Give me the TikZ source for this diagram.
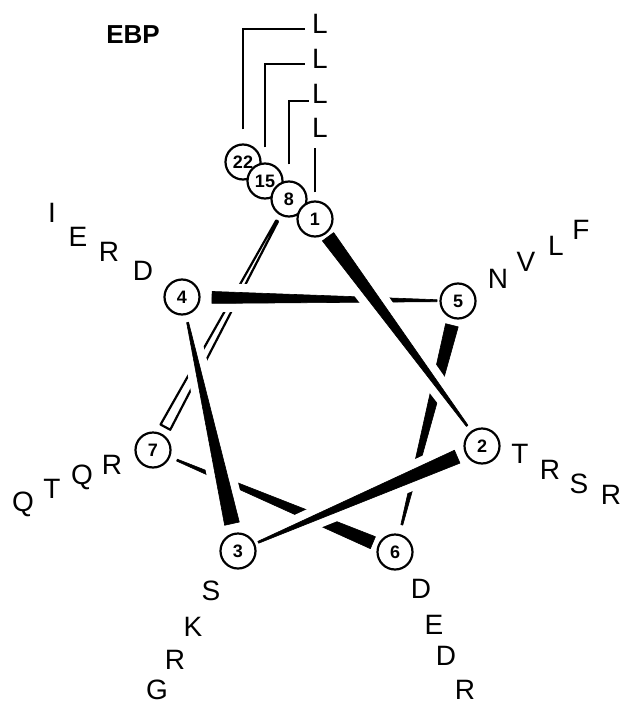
\documentclass[tikz,border=0pt]{standalone}
\usepackage{fontspec}
\setmainfont{Liberation Sans}
\usetikzlibrary{calc}
\pgfdeclarelayer{bg}
\pgfsetlayers{bg,main}

\newcommand{\helixbond}[7]{%
  \coordinate (hbA) at ($(#2)!#4!(#3)$);
  \coordinate (hbB) at ($(#3)!#5!(#2)$);
  \coordinate (hbP) at ($(hbA)!#6!90:(hbB)$);
  \coordinate (hbQ) at ($(hbB)!#7!-90:(hbA)$);
  \coordinate (hbR) at ($(hbB)!#7!90:(hbA)$);
  \coordinate (hbS) at ($(hbA)!#6!-90:(hbB)$);
  \path[halo] (hbP) -- (hbQ) -- (hbR) -- (hbS) -- cycle;
  \path[#1] (hbP) -- (hbQ) -- (hbR) -- (hbS) -- cycle;
}

\begin{document}
\begin{tikzpicture}[x=1pt,y=-1pt,
  res/.style={circle,draw,line width=2.2pt,fill=white,minimum size=35pt,inner sep=0pt,font=\fontsize{18}{18}\selectfont\bfseries},
  aa/.style={inner sep=0pt,font=\fontsize{28}{28}\selectfont},
  leader/.style={line width=2pt},
  halo/.style={draw=white,fill=white,line width=17pt,line join=round},
  solidbond/.style={fill=black,draw=black,line width=0.6pt,line join=round},
  openbond/.style={fill=white,draw=black,line width=2.2pt,line join=round}
]
\useasboundingbox (0,0) rectangle (622,706);

\node[res] (c22) at (243,162) {22};
\node[res] (c15) at (265,181) {15};
\node[res] (c8) at (289,199) {8};
\node[res] (c1) at (315,219) {1};
\node[res] (c4) at (182,297) {4};
\node[res] (c5) at (458,301) {5};
\node[res] (c2) at (482,446) {2};
\node[res] (c7) at (153,450) {7};
\node[res] (c3) at (238,551) {3};
\node[res] (c6) at (395,552) {6};

\node[aa,font=\fontsize{26}{26}\selectfont\bfseries] (title) at (133,35) {EBP};
\node[aa] (l1) at (320,24) {L};
\node[aa] (l2) at (320,59) {L};
\node[aa] (l3) at (320,94) {L};
\node[aa] (l4) at (320,128) {L};

\draw[leader] ($(c22.north)+(0,-14)$) |- ($(l1.west)+(-7,5)$);
\draw[leader] ($(c15.north)+(0,-15)$) |- ($(l2.west)+(-7,5)$);
\draw[leader] ($(c8.north)+(0,-16)$) |- ($(l3.west)+(-3,7)$);
\draw[leader] ($(c1.north)+(0,-8)$) -- ($(c1.north |- l4.south)+(0,10)$);

\foreach \t/\x/\y [count=\i] in {I/52/213,E/78/237,R/109/252,D/143/271}
  \node[aa] (r4-\i) at (\x,\y) {\t};
\foreach \t/\x/\y [count=\i] in {N/498/279,V/526/262,L/556/246,F/581/230}
  \node[aa] (r5-\i) at (\x,\y) {\t};
\foreach \t/\x/\y [count=\i] in {T/520/454,R/550/470,S/579/484,R/611/495}
  \node[aa] (r2-\i) at (\x,\y) {\t};
\foreach \t/\x/\y [count=\i] in {Q/23/504,T/52/489,Q/82/477,R/112/465}
  \node[aa] (r7-\i) at (\x,\y) {\t};
\foreach \t/\x/\y [count=\i] in {S/211/591,K/193/627,R/175/660,G/157/690}
  \node[aa] (r3-\i) at (\x,\y) {\t};
\foreach \t/\x/\y [count=\i] in {D/421/589,E/434/625,D/446/656,R/465/690}
  \node[aa] (r6-\i) at (\x,\y) {\t};

\begin{pgfonlayer}{bg}
\helixbond{openbond}{c7}{c8}{26pt}{25pt}{5.5pt}{1pt}
\helixbond{solidbond}{c6}{c7}{24pt}{26pt}{6.5pt}{1pt}
\helixbond{solidbond}{c5}{c6}{25pt}{28pt}{6.5pt}{1pt}
\helixbond{solidbond}{c4}{c5}{30pt}{21pt}{6pt}{1pt}
\helixbond{solidbond}{c3}{c4}{28pt}{26pt}{7.5pt}{1pt}
\helixbond{solidbond}{c2}{c3}{27pt}{22pt}{7pt}{1pt}
\helixbond{solidbond}{c1}{c2}{22pt}{25pt}{7pt}{1pt}
\end{pgfonlayer}
\end{tikzpicture}
\end{document}
